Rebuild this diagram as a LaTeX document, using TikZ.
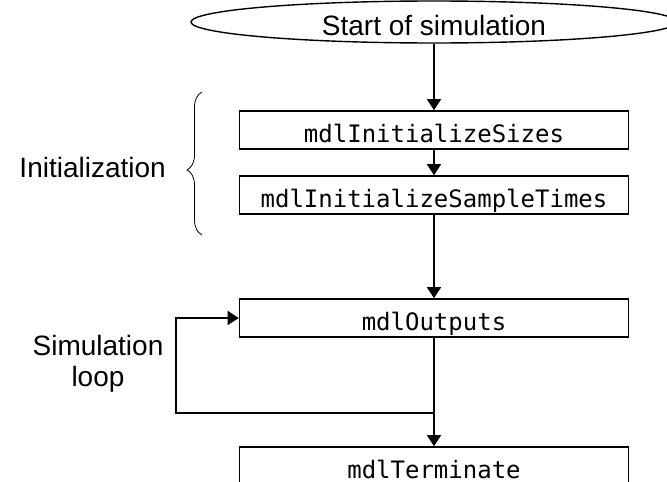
\documentclass[tikz,border=0pt]{standalone}
\usepackage{fontspec}
\setmainfont{Liberation Sans}
\newfontfamily\codefont{DejaVu Sans Mono}
\usetikzlibrary{positioning}
\usetikzlibrary{shapes.geometric}
\usetikzlibrary{arrows.meta}
\usetikzlibrary{decorations.pathreplacing}
\tikzset{callbox/.style={shape=rectangle, minimum width=389pt, minimum height=38pt, inner sep=0pt, text height=24pt, text depth=0pt, draw=black, line width=1.6pt, font=\codefont\fontsize{24}{28}\selectfont},
  startnode/.style={shape=ellipse, minimum width=486pt, minimum height=42pt, inner sep=0pt, text height=27pt, text depth=0pt, draw=black, line width=1.4pt, font=\fontsize{28}{32}\selectfont},
  flow/.style={line width=1.6pt, -{Triangle[width=14pt,length=11pt]}},
  sidelabel/.style={align=center, inner sep=0pt, font=\fontsize{28}{31}\selectfont}}

\begin{document}
\begin{tikzpicture}[x=1pt, y=-1pt]
    \useasboundingbox (0,0) rectangle (667,482);
    \node[startnode] (start) at (434,22) {Start of simulation};
    \node[callbox, below=66.5pt of start] (sizes) {mdlInitializeSizes};
    \node[callbox, below=25.4pt of sizes] (samples) {mdlInitializeSampleTimes};
    \node[callbox, below=83.4pt of samples] (outputs) {mdlOutputs};
    \node[callbox, below=108.4pt of outputs] (terminate) {mdlTerminate};

    \node[sidelabel, anchor=east] (initlabel) at (166,167) {Initialization};
    \node[sidelabel] (looplabel) at (98,364) {Simulation\\loop};

    \draw[flow]
    (start) -- (sizes);
    \draw[flow]
    (sizes) -- (samples);
    \draw[flow]
    (samples) -- (outputs);
    \draw[flow]
    (outputs) -- (terminate);

    % loop back to mdlOutputs
    \coordinate (branch) at (outputs.south |- 436,413);
    \coordinate (loopcorner) at (176,413);
    \draw[flow] (branch) -- (loopcorner) |- (outputs.west);

    \draw[line width=0.8pt, decorate, decoration={brace, amplitude=15pt, aspect=0.455}]
    (202,235) -- (202,92);
  \end{tikzpicture}
\end{document}
